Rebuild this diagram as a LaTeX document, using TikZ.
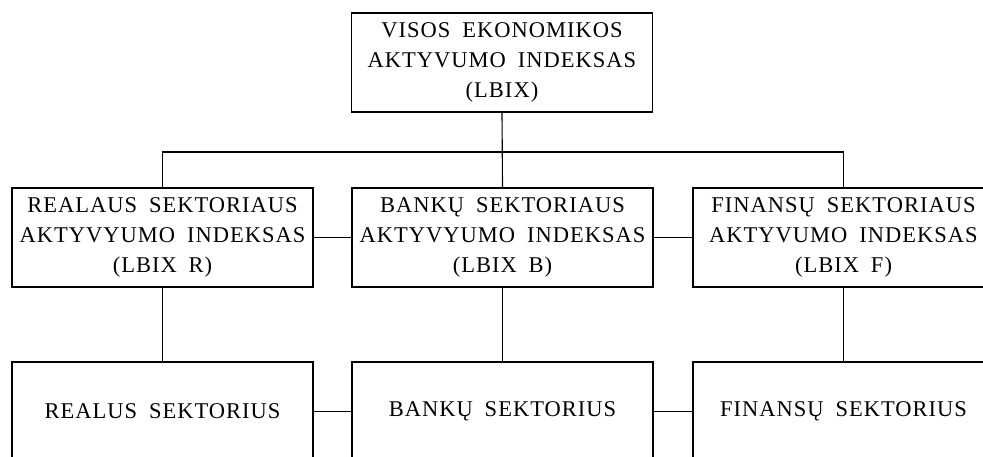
\documentclass[tikz,border=0pt]{standalone}
\usepackage{fontspec}
\setmainfont{Liberation Serif}[LetterSpace=4.5, WordSpace=1.8]
\usepackage{tikz}

\begin{document}
\begin{tikzpicture}[line width=0.8pt,
        box/.style={draw, minimum width=7.525cm, minimum height=2.475cm, align=center,
                    inner sep=0pt, font=\fontsize{16}{21.3}\selectfont}]
            \useasboundingbox (0,0) rectangle (24.575,-11.4);
            % top
            \node [box] (lbix) at (12.55,-1.5625) {VISOS EKONOMIKOS\\AKTYVUMO INDEKSAS\\(LBIX)};
            % indeksai
            \node [box] (lbixr) at (4.0625,-5.9375) {REALAUS SEKTORIAUS\\AKTYVYUMO INDEKSAS\\(LBIX R)};
            \node [box] (lbixb) at (12.5625,-5.9375) {BANKŲ SEKTORIAUS\\AKTYVYUMO INDEKSAS\\(LBIX B)};
            \node [box] (lbixf) at (21.0875,-5.9375) {FINANSŲ SEKTORIAUS\\AKTYVUMO INDEKSAS\\(LBIX F)};
            % sektoriai
            \node [box] (real) at (4.0625,-10.2875) {REALUS SEKTORIUS};
            \node [box] (bank) at (12.5625,-10.2875) {BANKŲ SEKTORIUS};
            \node [box] (fin) at (21.0875,-10.2875) {FINANSŲ SEKTORIUS};
            \coordinate (bus) at (0,-3.8);
            \draw (lbix.south) -- (lbixb.north);
            \draw (lbixr.north) -- (lbixr.north |- bus) -- (lbixf.north |- bus) -- (lbixf.north);
            \draw (lbixr.east) -- (lbixb.west);
            \draw (lbixb.east) -- (lbixf.west);
            \foreach \a/\b in {lbixr/real, lbixb/bank, lbixf/fin}
                    \draw (\a.south) -- (\b.north);
            \draw (real.east) -- (bank.west);
            \draw (bank.east) -- (fin.west);
      \end{tikzpicture}
\end{document}
